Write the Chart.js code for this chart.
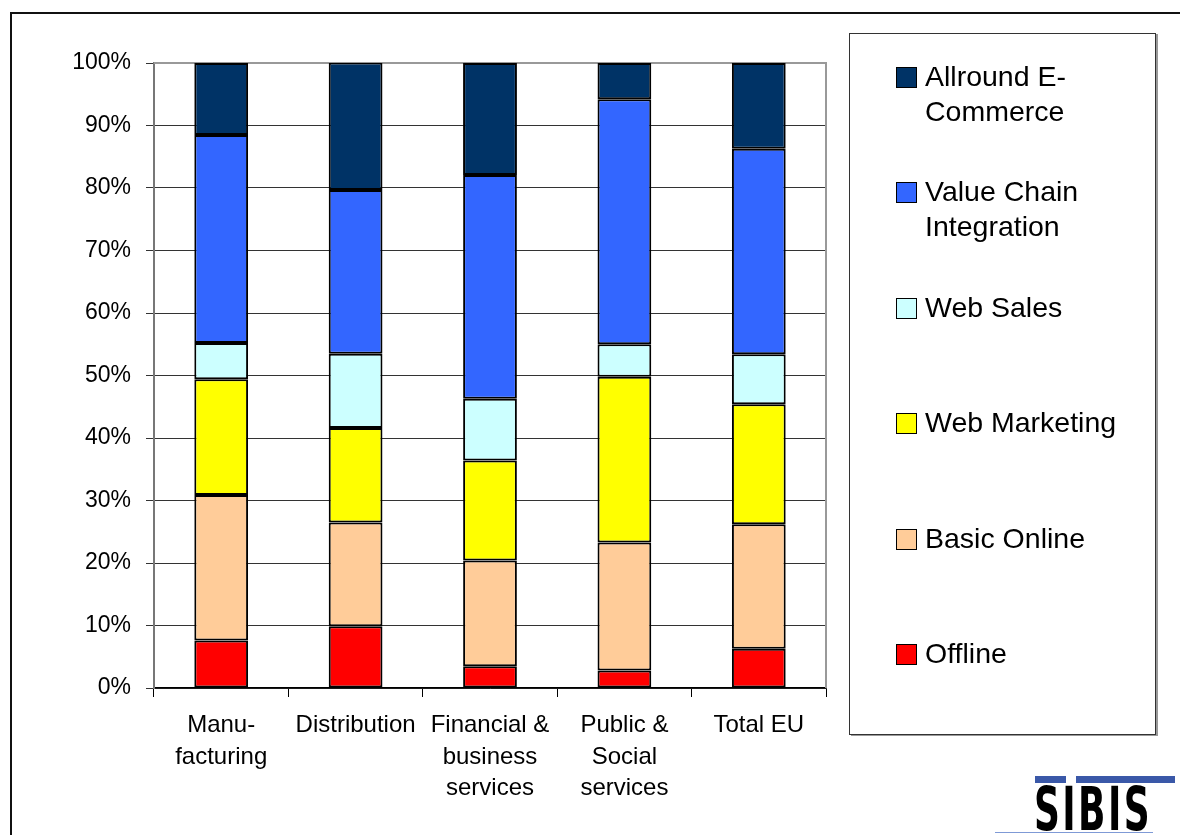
<!DOCTYPE html>
<html>
<head>
<meta charset="utf-8">
<script src="https://cdn.jsdelivr.net/npm/chart.js@4/dist/chart.umd.min.js"></script>
<style>
  html, body { margin: 0; padding: 0; background: #fff; }
  body { width: 1180px; height: 835px; position: relative; overflow: hidden; font-family: "Liberation Sans", Arial, sans-serif; }
  #frame { position: absolute; left: 10px; top: 12px; width: 1200px; height: 840px; border-left: 2px solid #111; border-top: 2px solid #111; }
  #chart { position: absolute; left: 0; top: 0; }
  #legend { position: absolute; left: 849px; top: 33px; width: 305px; height: 700px; border: 1px solid #333; box-shadow: 2px 1px 0 #999; background: #fff; }
  .item { position: absolute; left: 46px; font-size: 28.5px; line-height: 35px; color: #000; white-space: nowrap; }
  .swatch { position: absolute; left: 0; top: 8px; width: 19px; height: 19px; border: 1px solid #000; }
  .text { margin-left: 29px; }
  #logo { position: absolute; left: 990px; top: 770px; width: 190px; height: 65px; }
  #logo .bar { position: absolute; top: 6px; height: 7px; background: #3a58a8; }
  #logo .word { position: absolute; left: 44px; top: 9px; font-family: "DejaVu Sans", sans-serif; font-weight: bold; font-size: 60px; line-height: 60px; color: #000; transform: scaleX(0.6); transform-origin: left top; letter-spacing: 4px; }
  #logo .rule { position: absolute; left: 5px; top: 62px; width: 158px; height: 1px; background: #7f9ad6; }
</style>
</head>
<body>
<div id="frame"></div>
<canvas id="chart" width="1180" height="835"></canvas>
<div id="legend"></div>
<div id="logo">
  <div class="bar" style="left:45px;width:31px"></div>
  <div class="bar" style="left:86px;width:99px"></div>
  <div class="word">SIBIS</div>
  <div class="rule"></div>
</div>
<script>
const categories = [['Manu-', 'facturing'], 'Distribution', ['Financial &', 'business', 'services'], ['Public &', 'Social', 'services'], 'Total EU'];

// shares per sector, in percent (bottom of the stack first)
const offline = [7.6, 9.9, 3.5, 2.8, 6.3];
const basicOnline = [23.3, 16.6, 16.9, 20.5, 19.9];
const webMarketing = [18.5, 15.1, 16.0, 26.5, 19.2];
const webSales = [5.8, 11.9, 9.9, 5.2, 8.0];
const valueChain = [33.3, 26.2, 35.8, 39.2, 32.9];
const allround = [11.5, 20.4, 17.9, 5.8, 13.7];

const seriesNames = ['Offline', 'Basic Online', 'Web Marketing', 'Web Sales', 'Value Chain Integration', 'Allround E-Commerce'];
const legendLines = [['Offline'], ['Basic Online'], ['Web Marketing'], ['Web Sales'], ['Value Chain', 'Integration'], ['Allround E-', 'Commerce']];
const seriesColors = ['#ff0000', '#ffcc99', '#ffff00', '#ccffff', '#3366ff', '#003366'];
const yTicks = [0, 10, 20, 30, 40, 50, 60, 70, 80, 90, 100];

const seriesValues = [offline, basicOnline, webMarketing, webSales, valueChain, allround];

/**
 * Grey frame on the top and right side of the plot area
 */
const plotFrame = {
  id: 'plotFrame',
  beforeDatasetsDraw(chart) {
    const { ctx, chartArea: a } = chart;
    ctx.save();
    ctx.strokeStyle = '#999';
    ctx.lineWidth = 2;
    ctx.beginPath();
    ctx.moveTo(a.left, a.top);
    ctx.lineTo(a.right, a.top);
    ctx.lineTo(a.right, a.bottom);
    ctx.stroke();
    ctx.restore();
  }
};

const chart = new Chart(document.getElementById('chart'), {
  type: 'bar',
  data: {
    labels: categories,
    datasets: seriesValues.map((values, i) => ({
      label: seriesNames[i],
      data: values,
      backgroundColor: seriesColors[i],
      borderColor: '#000',
      borderWidth: 2,
      borderSkipped: false,
      categoryPercentage: 1,
      barPercentage: 0.4
    }))
  },
  options: {
    responsive: false,
    animation: false,
    layout: { padding: { left: 10, top: 63, right: 354, bottom: 0 } },
    plugins: { legend: { display: false }, tooltip: { enabled: false } },
    scales: {
      x: {
        stacked: true,
        afterFit(scale) { scale.height = 147; },
        grid: { display: true, offset: true, drawOnChartArea: false, drawTicks: true, tickLength: 9, color: '#000', lineWidth: 1 },
        border: { color: '#000', width: 1.5 },
        ticks: {
          color: '#000',
          padding: 12,
          maxRotation: 0,
          autoSkip: false,
          font: { family: '"Liberation Sans Narrow", "Liberation Sans", Arial, sans-serif', size: 24, lineHeight: 1.33 }
        }
      },
      y: {
        stacked: true,
        min: 0,
        max: 100,
        afterFit(scale) { scale.width = 144; },
        afterBuildTicks(scale) { scale.ticks = yTicks.map(v => ({ value: v })); },
        grid: { color: '#333', lineWidth: 1, tickLength: 8 },
        border: { color: '#777', width: 2 },
        ticks: {
          color: '#000',
          padding: 15,
          font: { family: '"Liberation Sans", Arial, sans-serif', size: 23 },
          callback: v => v + '%'
        }
      }
    }
  },
  plugins: [plotFrame]
});

// legend box on the right, top series first
function buildLegend() {
  const box = document.getElementById('legend');
  const order = chart.data.datasets.map((d, i) => i).reverse();
  order.forEach((idx, row) => {
    const ds = chart.data.datasets[idx];
    const item = document.createElement('div');
    item.className = 'item';
    item.style.top = (25 + row * 115.4) + 'px';
    const sw = document.createElement('div');
    sw.className = 'swatch';
    sw.style.background = ds.backgroundColor;
    const txt = document.createElement('div');
    txt.className = 'text';
    txt.innerHTML = legendLines[idx].join('<br>');
    item.appendChild(sw);
    item.appendChild(txt);
    box.appendChild(item);
  });
}

buildLegend();
</script>
</body>
</html>
